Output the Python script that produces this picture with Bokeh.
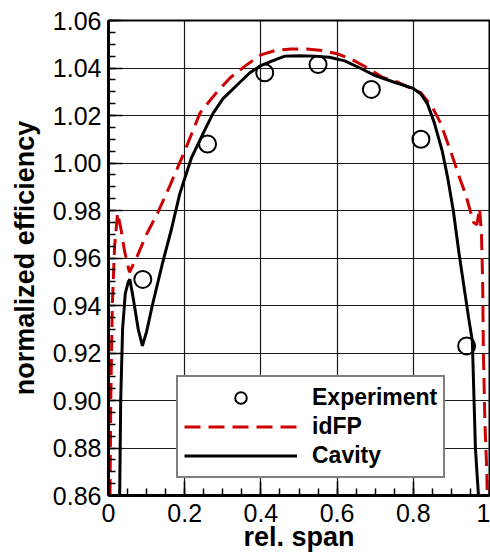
from bokeh.plotting import figure
from bokeh.models import Range1d, FixedTicker, Legend, LegendItem
from bokeh.embed import file_html
from bokeh.resources import INLINE
import numpy as np

# ---- data ----
exp_x = [0.09, 0.26, 0.41, 0.55, 0.69, 0.82, 0.94]
exp_y = [0.951, 1.008, 1.038, 1.0415, 1.031, 1.010, 0.923]

idfp_x = [0.003, 0.006, 0.010, 0.016, 0.024, 0.033, 0.042, 0.055, 0.076, 0.10,
          0.129, 0.16, 0.20, 0.24, 0.28, 0.32, 0.36, 0.40, 0.44, 0.48,
          0.52, 0.56, 0.60, 0.64, 0.68, 0.72, 0.76, 0.80, 0.82, 0.85,
          0.871, 0.90, 0.924, 0.937, 0.958, 0.967, 0.974, 0.979, 0.982, 0.984,
          0.988, 0.993, 0.996]
idfp_y = [0.84, 0.90, 0.94, 0.965, 0.979, 0.972, 0.963, 0.954, 0.961, 0.970,
          0.979, 0.990, 1.005, 1.021, 1.029, 1.036, 1.041, 1.0455, 1.0475, 1.048,
          1.048, 1.0474, 1.046, 1.0435, 1.040, 1.036, 1.034, 1.031, 1.0295, 1.0235,
          1.017, 1.004, 0.9926, 0.987, 0.975, 0.974, 0.981, 0.970, 0.950, 0.920,
          0.890, 0.870, 0.84]

cav_x = [0.028, 0.032, 0.037, 0.044, 0.052, 0.056, 0.065, 0.078, 0.089, 0.10,
         0.115, 0.142, 0.165, 0.187, 0.218, 0.25, 0.274, 0.30, 0.345, 0.371,
         0.40, 0.43, 0.463, 0.50, 0.54, 0.58, 0.62, 0.66, 0.70, 0.75,
         0.80, 0.82, 0.837, 0.855, 0.876, 0.89, 0.905, 0.92, 0.932, 0.945,
         0.955, 0.963, 0.971, 0.975]
cav_y = [0.84, 0.90, 0.93, 0.945, 0.950, 0.951, 0.943, 0.930, 0.923, 0.929,
         0.940, 0.958, 0.972, 0.987, 1.0023, 1.013, 1.0208, 1.027, 1.034, 1.038,
         1.041, 1.043, 1.045, 1.0452, 1.045, 1.0445, 1.043, 1.040, 1.0368, 1.034,
         1.0314, 1.029, 1.025, 1.017, 1.005, 0.994, 0.980, 0.962, 0.949, 0.935,
         0.925, 0.880, 0.860, 0.84]

x_ticks = [0, 0.2, 0.4, 0.6, 0.8, 1]
x_tick_labels = ["0", "0.2", "0.4", "0.6", "0.8", "1"]
y_ticks = [0.86, 0.88, 0.90, 0.92, 0.94, 0.96, 0.98, 1.00, 1.02, 1.04, 1.06]
y_tick_labels = ["0.86", "0.88", "0.90", "0.92", "0.94", "0.96", "0.98", "1.00", "1.02", "1.04", "1.06"]

series_names = ["Experiment", "idFP", "Cavity"]

FONT = "Liberation Sans"

p = figure(width=490, height=557, output_backend="svg", toolbar_location=None,
           x_range=Range1d(0, 1), y_range=Range1d(0.86, 1.06),
           min_border_left=108, min_border_right=1, min_border_top=20, min_border_bottom=62,
           background_fill_color="white", border_fill_color="white")
p.outline_line_color = "black"
p.outline_line_width = 2

x_minor = [float(v) for v in np.round(np.arange(0, 1.0001, 0.05), 3)]
y_minor = [float(v) for v in np.round(np.arange(0.86, 1.0601, 0.005), 3)]
p.xaxis.ticker = FixedTicker(ticks=x_ticks, minor_ticks=x_minor)
p.yaxis.ticker = FixedTicker(ticks=y_ticks, minor_ticks=y_minor)
p.xaxis.major_label_overrides = {t: l for t, l in zip(x_ticks, x_tick_labels)}
p.yaxis.major_label_overrides = {t: l for t, l in zip(y_ticks, y_tick_labels)}

for ax in (p.xaxis, p.yaxis):
    ax.axis_line_color = "black"
    ax.axis_line_width = 3
    ax.major_tick_in = 14
    ax.major_tick_out = 0
    ax.minor_tick_in = 7
    ax.minor_tick_out = 0
    ax.major_tick_line_color = "black"
    ax.minor_tick_line_color = "black"
    ax.major_tick_line_width = 1.5
    ax.minor_tick_line_width = 1.5
    ax.major_label_text_font = FONT
    ax.major_label_text_font_size = "25px"
    ax.major_label_text_color = "black"
    ax.axis_label_text_font = FONT
    ax.axis_label_text_font_size = "27px"
    ax.axis_label_text_font_style = "bold"
    ax.axis_label_text_color = "black"

p.xaxis.axis_label = "rel. span"
p.yaxis.axis_label = "normalized efficiency"
p.xaxis.major_label_standoff = 8
p.xaxis.axis_label_standoff = -3
p.yaxis.major_label_standoff = 7
p.yaxis.axis_label_standoff = 10

for g in (p.xgrid, p.ygrid):
    g.grid_line_color = "black"
    g.grid_line_width = 1.2
    g.grid_line_alpha = 0.9

r_exp = p.scatter(exp_x, exp_y, marker="circle", size=17, fill_color=None,
                  line_color="black", line_width=2)
r_idfp = p.line(idfp_x, idfp_y, line_color="#cc0000", line_width=3, line_dash="16 8")
r_cav = p.line(cav_x, cav_y, line_color="black", line_width=3)

legend = Legend(items=[LegendItem(label=series_names[0], renderers=[r_exp]),
                       LegendItem(label=series_names[1], renderers=[r_idfp]),
                       LegendItem(label=series_names[2], renderers=[r_cav])],
                location=(68, 17))
legend.glyph_width = 113
legend.glyph_height = 29
legend.label_height = 29
legend.label_standoff = 15
legend.padding = 6
legend.spacing = 0
legend.margin = 0
legend.border_line_color = "black"
legend.border_line_width = 2
legend.background_fill_color = "white"
legend.background_fill_alpha = 1
legend.label_text_font = FONT
legend.label_text_font_size = "23px"
legend.label_text_font_style = "bold"
legend.label_text_color = "black"
p.add_layout(legend, "center")

open("out.html", "w").write(file_html(p, INLINE))
